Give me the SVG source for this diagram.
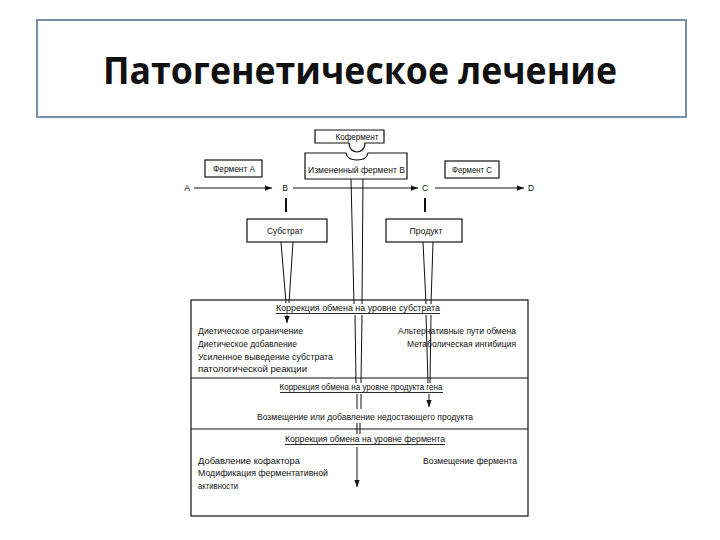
<svg xmlns="http://www.w3.org/2000/svg" width="720" height="540" viewBox="0 0 720 540">
<style>
.box{fill:#fff;stroke:#111;stroke-width:1.2}
.t{font-family:"Liberation Sans",Arial,sans-serif;font-size:8.5px;fill:#111}
.c{text-anchor:middle}
.e{text-anchor:end}
.ln{stroke:#111;stroke-width:1;fill:none}
.thk{stroke:#111;stroke-width:2;fill:none}
.ul{stroke:#111;stroke-width:0.9}
</style>
<defs>
<marker id="ah" viewBox="0 0 8 6" refX="8" refY="3" markerWidth="7" markerHeight="5.5" markerUnits="userSpaceOnUse" orient="auto">
<path d="M0,0 L8,3 L0,6 Z" fill="#111"/>
</marker>
</defs>
<rect width="720" height="540" fill="#fff"/>

<g id="title">
<rect x="37" y="20" width="649" height="97" fill="#fff" stroke="#7890a8" stroke-width="2"/>
<text x="360" y="84" text-anchor="middle" textLength="514" lengthAdjust="spacingAndGlyphs" font-family="'Open Sans','Liberation Sans',Arial,sans-serif" font-weight="bold" font-size="38" fill="#111">Патогенетическое лечение</text>
</g>

<g id="coenzyme">
<path class="box" d="M315,130 H384 V143 H365 C365,149 361,152 357,152 C353,152 349,149 349,143 H315 Z"/>
<text class="t c" x="357" y="140" textLength="43" lengthAdjust="spacingAndGlyphs">Кофермент</text>
</g>

<g id="enzymeB">
<path class="box" d="M305,153 H346 C347,158 351,160 357,160 C363,160 367,158 368,153 H407 V179 H305 Z"/>
<text class="t" x="308" y="173" textLength="97" lengthAdjust="spacingAndGlyphs">Измененный фермент В</text>
</g>

<g id="enzymeA">
<rect class="box" x="205" y="160" width="57" height="17"/>
<text class="t c" x="234" y="172" textLength="42" lengthAdjust="spacingAndGlyphs">Фермент А</text>
</g>

<g id="enzymeC">
<rect class="box" x="445" y="161" width="54" height="17"/>
<text class="t c" x="472" y="173" textLength="40" lengthAdjust="spacingAndGlyphs">Фермент С</text>
</g>

<g id="letters">
<text class="t c" x="187" y="191">A</text>
<text class="t c" x="285" y="191">B</text>
<text class="t c" x="425" y="191">C</text>
<text class="t c" x="531" y="191">D</text>
</g>

<g id="substrate">
<rect class="box" x="247" y="219" width="80" height="23"/>
<text class="t c" x="285" y="234" textLength="36" lengthAdjust="spacingAndGlyphs">Субстрат</text>
</g>

<g id="product">
<rect class="box" x="386" y="219" width="76" height="23"/>
<text class="t c" x="426" y="234" textLength="33" lengthAdjust="spacingAndGlyphs">Продукт</text>
</g>

<g id="correction">
<rect class="box" x="191" y="300" width="337" height="216"/>
<line class="ln" x1="191" y1="378" x2="528" y2="378"/>
<line class="ln" x1="191" y1="429" x2="528" y2="429"/>

<text class="t c" x="358" y="311" textLength="164" lengthAdjust="spacingAndGlyphs">Коррекция обмена на уровне субстрата</text>
<line class="ul" x1="276" y1="313.5" x2="440" y2="313.5"/>
<text class="t" x="198" y="334" textLength="105" lengthAdjust="spacingAndGlyphs">Диетическое ограничение</text>
<text class="t" x="198" y="347" textLength="99" lengthAdjust="spacingAndGlyphs">Диетическое добавление</text>
<text class="t" x="198" y="360" textLength="135" lengthAdjust="spacingAndGlyphs">Усиленное выведение субстрата</text>
<text class="t" x="198" y="372" textLength="109" lengthAdjust="spacingAndGlyphs">патологической реакции</text>
<text class="t e" x="516" y="334" textLength="118" lengthAdjust="spacingAndGlyphs">Альтернативные пути обмена</text>
<text class="t e" x="516" y="347" textLength="109" lengthAdjust="spacingAndGlyphs">Метаболическая ингибиция</text>

<text class="t c" x="361" y="390" textLength="163" lengthAdjust="spacingAndGlyphs">Коррекция обмена на уровне продукта гена</text>
<line class="ul" x1="280" y1="392.5" x2="443" y2="392.5"/>
<text class="t c" x="365" y="420" textLength="216" lengthAdjust="spacingAndGlyphs">Возмещение или добавление недостающего продукта</text>

<text class="t c" x="365" y="442" textLength="160" lengthAdjust="spacingAndGlyphs">Коррекция обмена на уровне фермента</text>
<line class="ul" x1="285" y1="444.5" x2="445" y2="444.5"/>
<text class="t" x="198" y="464" textLength="102" lengthAdjust="spacingAndGlyphs">Добавление кофактора</text>
<text class="t" x="198" y="476" textLength="130" lengthAdjust="spacingAndGlyphs">Модификация ферментативной</text>
<text class="t" x="198" y="489" textLength="40" lengthAdjust="spacingAndGlyphs">активности</text>
<text class="t e" x="517" y="464" textLength="94" lengthAdjust="spacingAndGlyphs">Возмещение фермента</text>
</g>

<g id="connectors">
<line class="ln" x1="194" y1="188" x2="272" y2="188" marker-end="url(#ah)"/>
<line class="ln" x1="293" y1="188" x2="418" y2="188" marker-end="url(#ah)"/>
<line class="ln" x1="435" y1="188" x2="524" y2="188" marker-end="url(#ah)"/>
<line class="thk" x1="286" y1="198" x2="286" y2="212"/>
<line class="thk" x1="425" y1="198" x2="425" y2="212"/>
<line class="ln" x1="281" y1="242" x2="286" y2="303"/>
<line class="ln" x1="293" y1="242" x2="289" y2="303"/>
<line class="ln" x1="287" y1="315" x2="287" y2="323" marker-end="url(#ah)"/>
<line class="ln" x1="351" y1="179" x2="354" y2="304"/>
<line class="ln" x1="363" y1="179" x2="362" y2="304"/>
<line class="ln" x1="355" y1="315" x2="356" y2="383"/>
<line class="ln" x1="362" y1="315" x2="361" y2="383"/>
<line class="ln" x1="357" y1="394" x2="357" y2="409"/>
<line class="ln" x1="361" y1="394" x2="361" y2="409"/>
<line class="ln" x1="357" y1="423" x2="357" y2="434"/>
<line class="ln" x1="360" y1="423" x2="360" y2="434"/>
<line class="ln" x1="357" y1="447" x2="357" y2="487" marker-end="url(#ah)"/>
<line class="ln" x1="423" y1="242" x2="426" y2="304"/>
<line class="ln" x1="433" y1="242" x2="431" y2="304"/>
<line class="ln" x1="426" y1="315" x2="428" y2="383"/>
<line class="ln" x1="431" y1="315" x2="430" y2="383"/>
<line class="ln" x1="429" y1="394" x2="429" y2="407" marker-end="url(#ah)"/>
</g>
</svg>
